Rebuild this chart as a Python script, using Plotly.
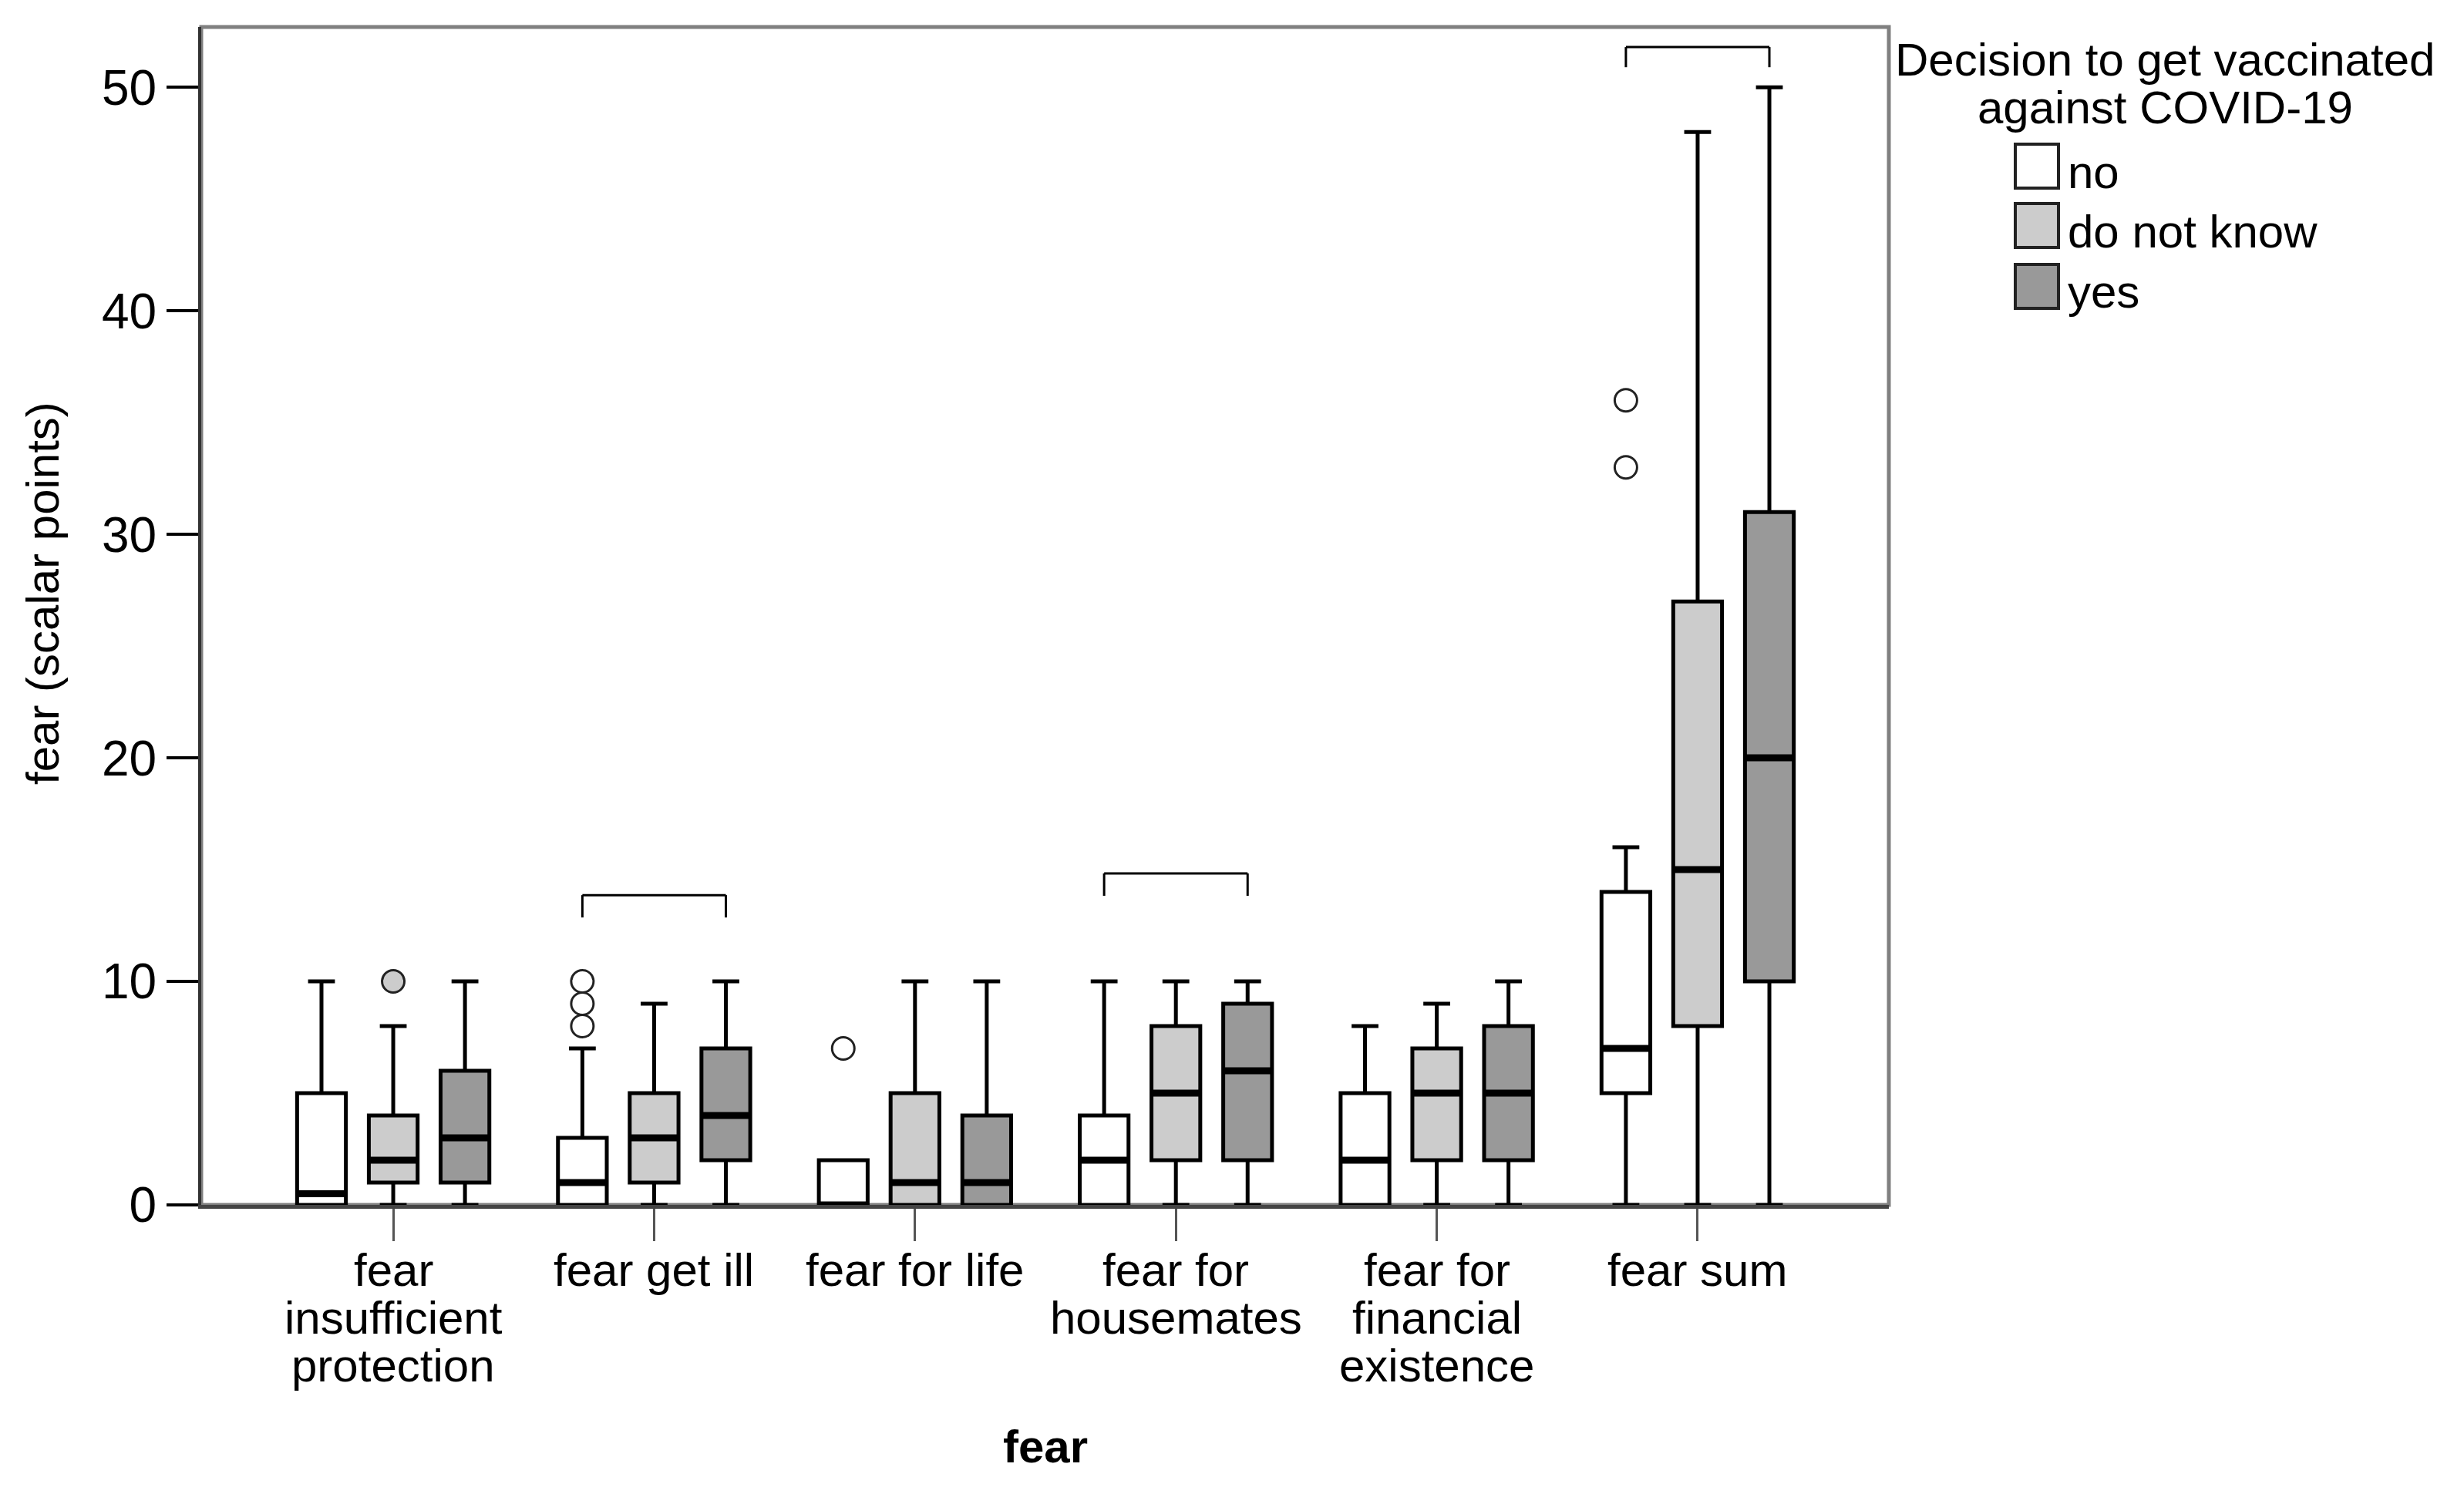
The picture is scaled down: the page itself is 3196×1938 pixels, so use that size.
import plotly.graph_objects as go

# categories on the x axis (\n marks the line breaks of the labels)
categories = ["fear\ninsufficient\nprotection", "fear get ill", "fear for life",
              "fear for\nhousemates", "fear for\nfinancial\nexistence", "fear sum"]
groups = ["no", "do not know", "yes"]
group_colors = ["#ffffff", "#cccccc", "#999999"]

# box statistics per group
no_low = [0, 0, 0, 0, 0, 0]
no_q1 = [0, 0, 0, 0, 0, 5]
no_med = [0.5, 1, 0, 2, 2, 7]
no_q3 = [5, 3, 2, 4, 5, 14]
no_high = [10, 7, 2, 10, 8, 16]
no_out = [[], [8, 9, 10], [7], [], [], [33, 36]]

dnk_low = [0, 0, 0, 0, 0, 0]
dnk_q1 = [1, 1, 0, 2, 2, 8]
dnk_med = [2, 3, 1, 5, 5, 15]
dnk_q3 = [4, 5, 5, 8, 7, 27]
dnk_high = [8, 9, 10, 10, 9, 48]
dnk_out = [[10], [], [], [], [], []]

yes_low = [0, 0, 0, 0, 0, 0]
yes_q1 = [1, 2, 0, 2, 2, 10]
yes_med = [3, 4, 1, 6, 5, 20]
yes_q3 = [6, 7, 4, 9, 8, 31]
yes_high = [10, 10, 10, 10, 10, 50]
yes_out = [[], [], [], [], [], []]

# significance brackets: category index, top, bottom of the legs
bracket_cat = [1, 3, 5]
bracket_top = [13.86, 14.83, 51.8]
bracket_low = [12.86, 13.83, 50.9]

FONT = "Arial, Liberation Sans, sans-serif"
PAGE = 8  # default body margin of the html page
W, H = 3196 - 2 * PAGE, 1938 - 2 * PAGE
L, R, T, B = 261 - PAGE, 2450 - PAGE, 35 - PAGE, 1563 - PAGE


# reference pixel positions -> paper coordinates
def px_x(x):
    return (x - PAGE - L) / (R - L)


def px_y(y):
    return (B - (y - PAGE)) / (B - T)


stats = [
    (no_low, no_q1, no_med, no_q3, no_high, no_out),
    (dnk_low, dnk_q1, dnk_med, dnk_q3, dnk_high, dnk_out),
    (yes_low, yes_q1, yes_med, yes_q3, yes_high, yes_out),
]

fig = go.Figure()
for name, color, (lo, q1, med, q3, hi, out) in zip(groups, group_colors, stats):
    # empty sample rows make plotly drop the trace, so pad them with a blank
    samples = [o if o else [None] for o in out]
    fig.add_trace(go.Box(
        x=categories, y=samples,
        lowerfence=lo, q1=q1, median=med, q3=q3, upperfence=hi,
        name=name, fillcolor=color, offsetgroup=name,
        line=dict(color="black", width=5),
        whiskerwidth=0.55,
        boxpoints="outliers", jitter=0, pointpos=0,
        marker=dict(symbol="circle", size=29, color=color,
                    line=dict(color="#222222", width=3)),
        showlegend=False,
    ))

# SPSS draws the medians bold: overlay a flat box at the median in the same slot
for name, (lo, q1, med, q3, hi, out) in zip(groups, stats):
    fig.add_trace(go.Box(
        x=categories,
        lowerfence=med, q1=med, median=med, q3=med, upperfence=med,
        name=name + " median", offsetgroup=name,
        fillcolor="rgba(0,0,0,0)", line=dict(color="black", width=9),
        whiskerwidth=0, boxpoints=False, showlegend=False, hoverinfo="skip",
    ))

shapes = []
# frame around the plot area
shapes.append(dict(type="rect", xref="paper", yref="paper", x0=0, x1=1, y0=0, y1=1,
                   line=dict(color="#808080", width=5), layer="below"))
for c, top, low in zip(bracket_cat, bracket_top, bracket_low):
    x0, x1 = c - 0.275, c + 0.275
    ln = dict(color="black", width=3)
    shapes.append(dict(type="line", xref="x", yref="y", x0=x0, x1=x1, y0=top, y1=top, line=ln))
    shapes.append(dict(type="line", xref="x", yref="y", x0=x0, x1=x0, y0=top, y1=low, line=ln))
    shapes.append(dict(type="line", xref="x", yref="y", x0=x1, x1=x1, y0=top, y1=low, line=ln))

txt = dict(family=FONT, size=60, color="black")
annotations = [
    dict(text="fear (scalar points)", xref="paper", yref="paper", x=px_x(55), y=px_y(770),
         xanchor="center", yanchor="middle", textangle=-90, showarrow=False, font=txt),
    dict(text="<b>fear</b>", xref="paper", yref="paper", x=0.5, y=px_y(1876),
         xanchor="center", yanchor="middle", showarrow=False, font=txt),
    dict(text="Decision to get vaccinated", xref="paper", yref="paper", x=px_x(2808), y=px_y(77),
         xanchor="center", yanchor="middle", showarrow=False, font=txt),
    dict(text="against COVID-19", xref="paper", yref="paper", x=px_x(2808), y=px_y(139),
         xanchor="center", yanchor="middle", showarrow=False, font=txt),
]

# category labels, one annotation per line to keep the tight line spacing
for i, cat in enumerate(categories):
    for k, line in enumerate(cat.split("\n")):
        annotations.append(dict(text=line, xref="x", yref="paper", x=i, y=px_y(1647 + 62 * k),
                                xanchor="center", yanchor="middle", showarrow=False, font=txt))

# hand-made legend
leg_top = [187, 264, 343]
for name, color, top in zip(groups, group_colors, leg_top):
    shapes.append(dict(type="rect", xref="paper", yref="paper",
                       x0=px_x(2614), x1=px_x(2670), y0=px_y(top), y1=px_y(top + 57),
                       fillcolor=color, line=dict(color="#222222", width=4)))
    annotations.append(dict(text=name, xref="paper", yref="paper", x=px_x(2680),
                            y=px_y(top + 57 - 21), xanchor="left", yanchor="middle",
                            showarrow=False, font=txt))

fig.update_layout(
    width=W, height=H,
    margin=dict(l=L, r=W - R, t=T, b=H - B, pad=0),
    paper_bgcolor="white", plot_bgcolor="white",
    boxmode="group", boxgap=0.175, boxgroupgap=0.32,
    font=txt,
    shapes=shapes, annotations=annotations,
    showlegend=False,
    xaxis=dict(type="category", range=[-0.736, 5.733],
               showline=True, linecolor="#444444", linewidth=5,
               ticks="outside", ticklen=42, tickwidth=3, tickcolor="#555555",
               showticklabels=False, showgrid=False, zeroline=False),
    yaxis=dict(range=[0, 52.7], tickvals=[0, 10, 20, 30, 40, 50],
               showline=True, linecolor="#333333", linewidth=4,
               ticks="outside", ticklen=41, tickwidth=4, tickcolor="black",
               showgrid=False, zeroline=False,
               tickfont=dict(family=FONT, size=64, color="black")),
)

fig.write_html("out.html")
